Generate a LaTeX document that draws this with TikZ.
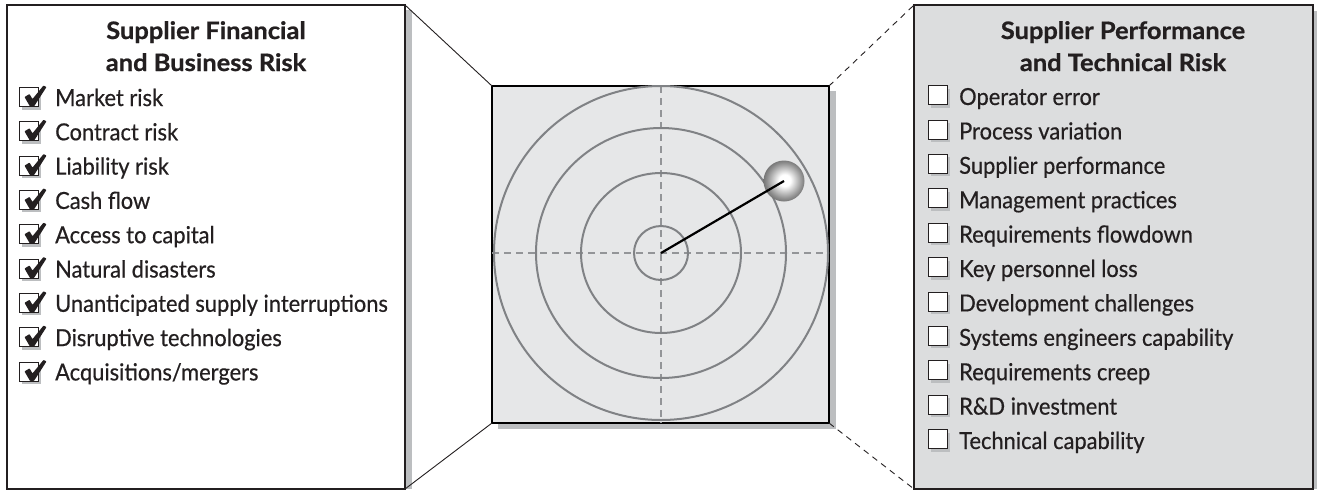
\documentclass[tikz,border=0pt]{standalone}
\usepackage{fontspec}
\setmainfont{Lato}[FakeStretch=0.93, FakeBold=0.5]
\newfontfamily\titlefont{Lato}[FakeStretch=1.06, FakeBold=0.8]
\usetikzlibrary{shadows}
\definecolor{shadowgray}{HTML}{BCBEC0}
\definecolor{radarfill}{HTML}{E6E7E8}
\definecolor{panelfill}{HTML}{DCDDDE}
\definecolor{ringgray}{HTML}{808285}
\definecolor{crossgray}{HTML}{939598}
\definecolor{inkblack}{HTML}{231F20}
\pgfdeclareradialshading{ballshade}{\pgfpoint{1bp}{1bp}}{color(0bp)=(white); color(7bp)=(white); color(22bp)=(black!45); color(33bp)=(black!72); color(50bp)=(black!72)}
\tikzset{
  panel/.style={draw=inkblack, line width=1.3pt, inner sep=0pt, outer sep=0pt, anchor=north west},
  item/.style={font=\fontsize{23.5}{28}\selectfont, text=inkblack, inner sep=0pt, anchor=base west},
  ttl/.style={font=\titlefont\fontsize{24}{28}\selectfont\bfseries, text=inkblack, inner sep=0pt, anchor=base},
  cbox/.style={draw=inkblack, line width=0.9pt, fill=white, minimum size=19pt, inner sep=0pt, anchor=south west,
     drop shadow={shadow xshift=3pt, shadow yshift=-3pt, fill=shadowgray, opacity=1}},
  tickmark/.style={fill=inkblack, rounded corners=0.6pt},
  ring/.style={draw=ringgray, line width=2pt},
  cross/.style={draw=crossgray, line width=1.3pt, dash pattern=on 7pt off 5pt},
}
\begin{document}
\begin{tikzpicture}[x=1pt,y=-1pt]
\useasboundingbox (0,0) rectangle (1317,491);
% shadows of panels
\fill[shadowgray] (405,10) rectangle (412,489);
\fill[shadowgray] (1313,11) rectangle (1320,489);
\fill[shadowgray] (498,91) rectangle (836,429);
% panels
\node[panel, fill=white, minimum width=398pt, minimum height=484pt] (lp) at (7,5) {};
\node[panel, fill=panelfill, minimum width=399pt, minimum height=484pt] (rp) at (914,5) {};
\node[panel, fill=radarfill, draw=black, line width=2.2pt, minimum width=337pt, minimum height=337pt] (rad) at (492,86) {};
% connectors
\draw[inkblack, line width=0.9pt] (lp.north east) -- (rad.north west);
\draw[inkblack, line width=0.9pt] (lp.south east) -- (rad.south west);
\draw[inkblack, line width=0.9pt, dash pattern=on 6pt off 5pt] (rad.north east) -- (rp.north west);
\draw[inkblack, line width=0.9pt, dash pattern=on 6pt off 5pt] (rad.south east) -- (rp.south west);
% radar
\coordinate (ctr) at (661,253);
\draw[cross] (rad.west |- ctr) -- (rad.east |- ctr);
\draw[cross] (rad.north -| ctr) -- (rad.south -| ctr);
\foreach \r in {167,125,80,27} { \draw[ring] (ctr) circle[radius=\r pt]; }
\node[circle, minimum size=41pt, inner sep=0pt, shading=ballshade] (ball) at (784,181) {};
\draw[black, line width=2.2pt] (ctr) -- (ball.center);
% left titles and items
\node[ttl] (lt1) at (206,39) {Supplier Financial};
\node[ttl] (lt2) at (206,71) {and Business Risk};
\foreach \t [count=\i] in {Market risk, Contract risk, Liability risk, Cash flow, Access to capital, Natural disasters, Unanticipated supply interruptions, Disruptive technologies, Acquisitions/mergers} {
  \node[cbox] (lb\i) at (19,{107+34.3*(\i-1)}) {};
  \fill[tickmark, shift={(lb\i.south west)}] (5.5,-10) -- (10.5,-13) -- (13.5,-8) -- (24.5,-21.5) -- (27.5,-20) -- (15,-0.5) -- (11,-0.5) -- cycle;
  \node[item] (li\i) at (55,{106+34.3*(\i-1)}) {\t};
}
% right titles and items
\node[ttl] (rt1) at (1123,39) {Supplier Performance};
\node[ttl] (rt2) at (1123,71) {and Technical Risk};
\foreach \t [count=\i] in {Operator error, Process variation, Supplier performance, Management practices, Requirements flowdown, Key personnel loss, Development challenges, Systems engineers capability, Requirements creep, R\&D investment, Technical capability} {
  \node[cbox] (rb\i) at (928,{105+34.4*(\i-1)}) {};
  \node[item] (ri\i) at (959,{105+34.4*(\i-1)}) {\t};
}
\end{tikzpicture}
\end{document}
